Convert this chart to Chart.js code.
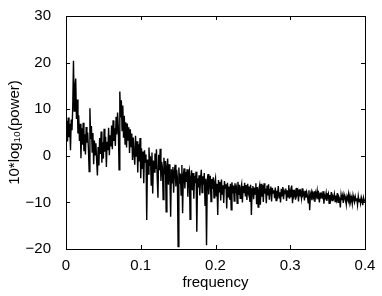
<!DOCTYPE html>
<html>
<head>
<meta charset="utf-8">
<script src="https://cdn.jsdelivr.net/npm/chart.js@4.4.0/dist/chart.umd.min.js"></script>
<style>
  html, body { margin: 0; padding: 0; background: #fff; }
  canvas { display: block; }
</style>
</head>
<body>
<canvas id="psdChart" width="382" height="296"></canvas>
<script>
// spectrum, one value every 0.001 in frequency
const freqStep = 0.001;
const freqTicks = [0, 0.1, 0.2, 0.3, 0.4];
const powerTicks = [-20, -10, 0, 10, 20, 30];
const power = [
  5.0, 7.5, 3.1, 8.2, 4.0, 6.9, 1.2, 7.8, 5.5, 10.2, 20.4, 9.6, 14.8, 16.6, 7.9, 12.1, 4.8, 8.7, 3.2, 6.9,
  -0.5, 5.9, 2.4, 7.1, 1.0, 4.6, 0.3, 6.2, 2.8, 5.0, 1.5, -3.4, 10.2, 3.6, 6.4, 0.8, 4.9, -1.8, 3.3, 0.2,
  2.7, -1.0, -4.2, 1.9, -2.1, 3.8, 0.4, 5.2, -1.5, 2.9, -0.6, 5.8, 0.9, 4.1, -2.4, 3.0, 1.2, 6.0, 0.1, 4.4,
  2.0, 6.5, 1.4, 7.6, 3.2, 5.9, 2.1, 8.4, 4.6, 9.3, 6.0, -3.0, 13.8, 8.2, 11.9, 5.4, 10.8, 3.9, 8.6, 2.5,
  7.2, 1.8, 6.9, 3.4, 6.1, 0.6, 5.7, 2.0, 4.8, -0.9, 3.9, 0.4, -1.9, 4.3, -0.2, 3.1, -3.6, 2.5, -1.2, 3.8,
  -4.8, 1.6, -2.7, 0.9, -5.9, 1.2, -1.4, 0.3, -13.8, -0.8, -3.9, 1.8, -2.2, -0.1, -6.3, 0.7, -8.1, -1.0, -3.5, 0.5,
  -2.8, 1.4, -4.6, -9.0, 0.2, -3.1, 1.5, -5.4, -1.3, -2.6, -9.4, -0.4, -4.0, -1.1, -12.0, -2.3, -0.6, -6.2, -1.8, -4.5,
  -13.1, -2.9, -5.8, -2.4, -7.9, -3.3, -1.9, -6.6, -3.0, -4.7, -19.5, -2.5, -6.0, -3.8, -8.4, -2.0, -12.3, -4.2, -2.7, -7.0,
  -3.5, -5.6, -2.9, -8.8, -4.0, -3.2, -13.6, -4.6, -3.1, -7.4, -3.7, -9.2, -4.3, -5.9, -3.4, -16.3, -4.8, -6.8, -4.2, -8.5,
  -5.1, -3.0, -7.9, -4.4, -6.2, -3.7, -10.6, -4.9, -19.2, -5.3, -3.9, -8.3, -5.5, -4.3, -9.8, -5.0, -7.1, -4.6, -9.0, -5.7,
  -4.8, -8.6, -6.0, -12.7, -5.2, -7.7, -5.6, -9.6, -5.1, -8.2, -6.3, -10.1, -5.4, -7.0, -6.1, -11.3, -5.8, -8.8, -6.6, -9.4,
  -6.0, -11.6, -5.7, -8.1, -6.4, -9.7, -5.9, -7.5, -6.8, -10.2, -5.6, -8.4, -6.2, -9.1, -7.0, -6.1, -10.0, -6.5, -8.0, -5.8,
  -8.7, -6.3, -9.5, -6.0, -7.8, -6.6, -9.9, -6.2, -12.7, -7.1, -6.5, -9.3, -6.8, -8.2, -5.9, -10.4, -6.7, -11.0, -7.3, -6.4,
  -10.5, -6.0, -8.8, -6.3, -9.9, -5.9, -8.1, -7.0, -10.2, -6.4, -8.5, -6.1, -9.4, -7.2, -6.6, -9.8, -6.9, -8.0, -7.4, -9.1,
  -6.8, -9.6, -7.5, -8.4, -6.5, -9.0, -7.8, -10.0, -7.1, -8.6, -6.7, -9.3, -7.6, -8.1, -7.0, -9.7, -7.4, -8.8, -6.3, -9.2,
  -7.7, -8.9, -6.4, -10.2, -7.3, -8.5, -7.9, -9.4, -6.9, -8.2, -7.6, -9.8, -7.2, -8.7, -7.9, -9.1, -7.0, -8.4, -8.0, -9.6,
  -7.5, -9.0, -7.8, -8.6, -10.1, -7.4, -11.7, -8.3, -7.7, -9.5, -8.1, -8.9, -7.6, -9.9, -8.0, -8.7, -7.5, -9.3, -8.4, -10.0,
  -7.9, -9.2, -8.3, -8.8, -7.6, -10.3, -8.5, -9.0, -8.0, -9.7, -8.6, -8.1, -10.2, -8.4, -9.3, -7.8, -9.6, -8.7, -9.1, -8.2,
  -9.8, -8.5, -9.4, -8.0, -10.0, -8.8, -9.2, -11.1, -8.4, -9.5, -8.6, -10.1, -8.3, -9.0, -8.9, -10.4, -8.7, -9.3, -8.2, -9.9,
  -8.6, -9.7, -9.0, -10.3, -8.5, -9.4, -10.0, -8.8, -9.6, -9.1, -10.5, -8.7, -9.8, -9.2, -10.2, -8.9, -9.5, -10.6, -9.0, -9.7,
  -9.4
];

const points = power.map((v, i) => ({ x: +(i * freqStep).toFixed(3), y: v }));
const fontFamily = '"Liberation Sans", Arial, Helvetica, sans-serif';
const minus = v => String(v).replace('-', '\u2212');

// matlab style box with ticks pointing inwards
const boxPlugin = {
  id: 'box',
  afterDraw(chart) {
    const { ctx, chartArea: a, scales } = chart;
    const len = 4;
    ctx.save();
    ctx.strokeStyle = '#000';
    ctx.lineWidth = 1;
    ctx.beginPath();
    freqTicks.forEach(t => {
      const px = Math.round(scales.x.getPixelForValue(t)) + 0.5;
      ctx.moveTo(px, a.bottom); ctx.lineTo(px, a.bottom - len);
      ctx.moveTo(px, a.top); ctx.lineTo(px, a.top + len);
    });
    powerTicks.forEach(t => {
      const py = Math.round(scales.y.getPixelForValue(t)) + 0.5;
      ctx.moveTo(a.left, py); ctx.lineTo(a.left + len, py);
      ctx.moveTo(a.right, py); ctx.lineTo(a.right - len, py);
    });
    ctx.stroke();
    ctx.strokeRect(Math.round(a.left) + 0.5, Math.round(a.top) + 0.5,
      Math.round(a.right - a.left), Math.round(a.bottom - a.top));
    ctx.restore();
  }
};

new Chart(document.getElementById('psdChart').getContext('2d'), {
  type: 'line',
  data: {
    datasets: [{
      data: points,
      borderColor: '#000',
      borderWidth: 1.4,
      pointRadius: 0,
      tension: 0,
      fill: false
    }]
  },
  options: {
    responsive: false,
    animation: false,
    events: [],
    layout: { padding: { top: 15, right: 17, left: 0, bottom: 0 } },
    plugins: { legend: { display: false }, tooltip: { enabled: false } },
    scales: {
      x: {
        type: 'linear',
        min: 0,
        max: 0.4,
        afterFit: s => { s.height = 47; },
        afterBuildTicks: s => { s.ticks = freqTicks.map(v => ({ value: v })); },
        grid: { display: false },
        border: { display: false },
        ticks: {
          color: '#000',
          padding: 0,
          maxRotation: 0,
          font: { family: fontFamily, size: 15 },
          callback: v => String(v)
        },
        title: {
          display: true,
          text: 'frequency',
          color: '#000',
          padding: { top: 0, bottom: 4 },
          font: { family: fontFamily, size: 15 }
        }
      },
      y: {
        min: -20,
        max: 30,
        afterFit: s => { s.width = 66; },
        afterBuildTicks: s => { s.ticks = powerTicks.map(v => ({ value: v })); },
        grid: { display: false },
        border: { display: false },
        ticks: {
          color: '#000',
          padding: 7,
          font: { family: fontFamily, size: 15 },
          callback: v => minus(v)
        },
        title: {
          display: true,
          text: '10*log\u2081\u2080(power)',
          color: '#000',
          padding: { top: 6, bottom: 0 },
          font: { family: fontFamily, size: 15 }
        }
      }
    }
  },
  plugins: [boxPlugin]
});
</script>
</body>
</html>
